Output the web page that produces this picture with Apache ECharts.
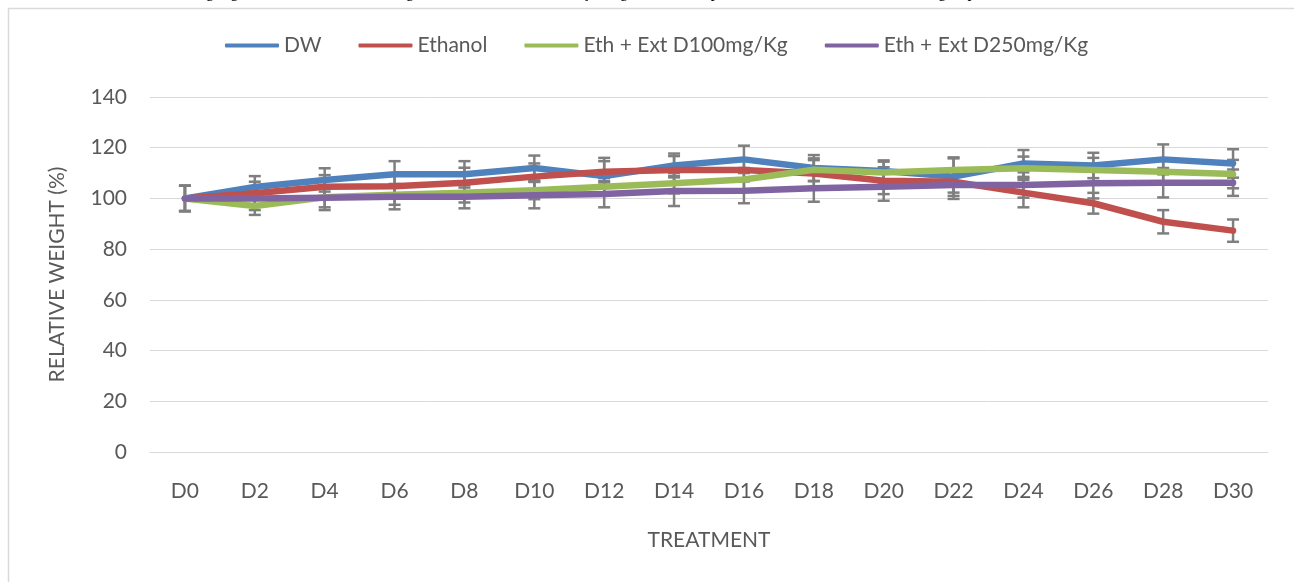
<!DOCTYPE html>
<html>
<head>
<meta charset="utf-8">
<title>Relative weight</title>
<script src="https://cdn.jsdelivr.net/npm/echarts@6/dist/echarts.min.js"></script>
<style>
  html, body { margin: 0; padding: 0; background: #ffffff; }
  #chart { width: 1294px; height: 582px; }
</style>
</head>
<body>
<div id="chart"></div>
<script>
// Days of treatment
const categories = ['D0', 'D2', 'D4', 'D6', 'D8', 'D10', 'D12', 'D14', 'D16', 'D18', 'D20', 'D22', 'D24', 'D26', 'D28', 'D30'];

// Relative weight (%) per group, mean values
const dwValues   = [100, 104.5, 107.3, 109.5, 109.5, 112.0, 108.8, 113.0, 115.4, 112.0, 110.8, 108.6, 113.8, 113.0, 115.4, 113.8];
const ethValues  = [100, 102.0, 104.6, 104.8, 106.2, 108.6, 110.5, 111.2, 111.2, 109.8, 107.0, 106.6, 102.3, 98.1, 90.8, 87.3];
const d100Values = [100, 97.0, 100.5, 101.5, 102.2, 103.2, 104.6, 106.0, 107.5, 111.3, 110.2, 111.2, 111.9, 111.2, 110.5, 109.6];
const d250Values = [100, 100.0, 100.3, 100.7, 100.7, 101.3, 101.7, 102.9, 103.0, 104.0, 104.6, 105.3, 105.3, 106.0, 106.2, 106.2];

// Standard deviations (error bar half-lengths)
const dwErr   = [5, 4.3, 4.6, 5.2, 5.2, 4.9, 7.2, 4.7, 5.4, 5.1, 4.2, 7.6, 5.3, 5.0, 5.9, 5.6];
const ethErr  = [5, 4.6, 4.6, 4.6, 5.9, 5.2, 4.2, 5.5, 4.5, 5.3, 5.3, 4.3, 5.8, 4.1, 4.6, 4.4];
const d100Err = [5, 3.5, 4.0, 4.0, 3.8, 3.5, 3.5, 4.0, 4.5, 4.5, 4.3, 4.6, 4.6, 4.8, 4.6, 5.6];
const d250Err = [5, 4.6, 4.9, 5.0, 4.6, 5.2, 5.2, 5.9, 4.9, 5.3, 5.5, 5.5, 5.0, 6.0, 5.8, 5.2];

// Axis ticks
const yMin = 0, yMax = 140, yStep = 20;

const groups = [
  { name: 'DW', values: dwValues, err: dwErr, color: '#4F81BD' },
  { name: 'Ethanol', values: ethValues, err: ethErr, color: '#C0504D' },
  { name: 'Eth + Ext D100mg/Kg', values: d100Values, err: d100Err, color: '#9BBB59' },
  { name: 'Eth + Ext D250mg/Kg', values: d250Values, err: d250Err, color: '#8064A2' }
];

const textColor = '#595959';
const gridColor = '#d9d9d9';
const font = 'Lato';

// Vertical error bar with flat caps
function renderErrorBar(params, api) {
  const x = api.value(0);
  const top = api.coord([x, api.value(2)]);
  const bottom = api.coord([x, api.value(1)]);
  const half = 6;
  const style = { stroke: '#7f7f7f', lineWidth: 2.5, fill: null };
  return {
    type: 'group',
    children: [
      { type: 'line', shape: { x1: top[0], y1: top[1], x2: bottom[0], y2: bottom[1] }, style: style },
      { type: 'line', shape: { x1: top[0] - half, y1: top[1], x2: top[0] + half, y2: top[1] }, style: style },
      { type: 'line', shape: { x1: bottom[0] - half, y1: bottom[1], x2: bottom[0] + half, y2: bottom[1] }, style: style }
    ]
  };
}

const errorSeries = groups.map(g => ({
  type: 'custom',
  name: g.name + ' SD',
  renderItem: renderErrorBar,
  encode: { x: 0, y: [1, 2] },
  data: g.values.map((v, i) => [i, v - g.err[i], v + g.err[i]]),
  z: 1,
  silent: true
}));

const lineSeries = groups.map((g, k) => ({
  type: 'line',
  name: g.name,
  data: g.values,
  showSymbol: false,
  symbol: 'none',
  lineStyle: { color: g.color, width: 6.5, cap: 'round', join: 'round' },
  itemStyle: { color: g.color },
  z: 2 + k
}));

const chart = echarts.init(document.getElementById('chart'), null, { renderer: 'canvas' });

chart.setOption({
  animation: false,
  backgroundColor: '#ffffff',
  graphic: [
    {
      type: 'rect',
      shape: { x: 8.5, y: 8.5, width: 1400, height: 700 },
      style: { fill: null, stroke: gridColor, lineWidth: 1.5 },
      z: 0
    },
    {
      type: 'text',
      x: -6,
      y: 1,
      style: {
        text: 'with ethanol the reduction of weight gain, while the extract brought back the increase in body weight when compared to the ethanol treated control group.',
        font: '16px "Liberation Serif"',
        fill: '#000000',
        verticalAlign: 'bottom'
      },
      z: 10
    }
  ],
  legend: {
    top: 30,
    left: 220,
    itemWidth: 54,
    itemHeight: 4,
    itemGap: 37,
    icon: 'roundRect',
    textStyle: { color: textColor, fontFamily: font, fontSize: 21 },
    data: groups.map(g => g.name)
  },
  grid: { left: 150, right: 26, top: 97, bottom: 130 },
  xAxis: {
    type: 'category',
    data: categories,
    boundaryGap: true,
    axisLine: { lineStyle: { color: gridColor, width: 1 } },
    axisTick: { show: false },
    axisLabel: { color: textColor, fontFamily: font, fontSize: 21, margin: 29 },
    name: 'TREATMENT',
    nameLocation: 'middle',
    nameGap: 78,
    nameTextStyle: { color: textColor, fontFamily: font, fontSize: 21 }
  },
  yAxis: {
    type: 'value',
    min: yMin,
    max: yMax,
    interval: yStep,
    axisLine: { show: false },
    axisTick: { show: false },
    splitLine: { lineStyle: { color: gridColor, width: 1 } },
    axisLabel: { color: textColor, fontFamily: font, fontSize: 21, margin: 23 },
    name: 'RELATIVE WEIGHT (%)',
    nameLocation: 'middle',
    nameRotate: 90,
    nameGap: 82,
    nameTextStyle: { color: textColor, fontFamily: font, fontSize: 21 }
  },
  series: errorSeries.concat(lineSeries)
});
</script>
</body>
</html>
